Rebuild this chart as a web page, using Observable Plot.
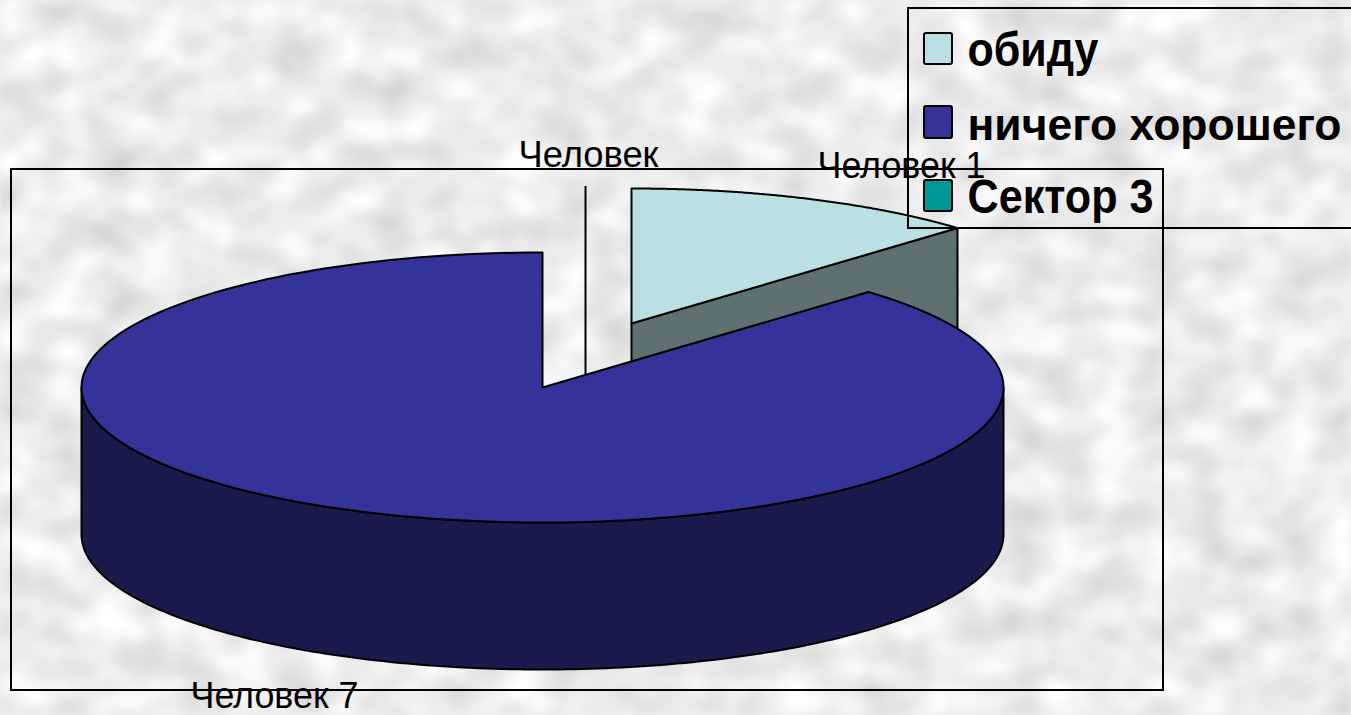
<!DOCTYPE html>
<html lang="ru">
<head>
<meta charset="utf-8">
<script src="https://cdn.jsdelivr.net/npm/d3@7"></script>
<script src="https://cdn.jsdelivr.net/npm/@observablehq/plot@0.6"></script>
<style>
html,body{margin:0;padding:0;width:1351px;height:715px;overflow:hidden;background:#ececec}
#bg{position:absolute;left:0;top:0}
#chart{position:absolute;left:0;top:0}
</style>
</head>
<body>
<svg id="bg" width="1351" height="715" aria-hidden="true">
  <filter id="mottle" x="0" y="0" width="100%" height="100%" color-interpolation-filters="sRGB">
    <feTurbulence type="fractalNoise" baseFrequency="0.022 0.028" numOctaves="2" seed="11"/>
    <feColorMatrix type="matrix" values="0.26 0 0 0 0.795  0.26 0 0 0 0.795  0.26 0 0 0 0.795  0 0 0 0 1"/>
    <feGaussianBlur stdDeviation="3.5"/>
  </filter>
  <rect width="1351" height="715" filter="url(#mottle)"/>
</svg>
<div id="chart"></div>
<script>
// Data
const categories = ["обиду", "ничего хорошего", "Сектор 3"];
const sliceValues = [1, 7, 0];
const sliceLabels = ["Человек 1", "Человек 7", "Человек"];
const topColors = ["#BBE0E3", "#333399", "#009999"];
const sideColors = ["#5E7072", "#1A1A4D", "#004D4D"];

// Layout of the pseudo-3D pie
const W = 1351, H = 715;
const C = {x: 542, y: 387, rx: 461, ry: 135, depth: 147};
const explode = [{dx: 89, dy: -64}, {dx: 0, dy: 0}];
const leaderX = 585, leaderTop = 186;
const frameBox = {x1: 11, y1: 169, x2: 1163, y2: 690};
const legendBox = {x1: 908, y1: 8, x2: 1360, y2: 228};
const swatchX = {x1: 924, x2: 952};
const swatchY = [[33, 64], [106, 138], [180, 211]];
const legendTextX = 967;
const legendTextY = [50, 125, 197];
const legendTextW = [131, 374, 186];
const legendFont = [48, 45, 48];
const labelPos = [{x: 901, y: 166}, {x: 274, y: 696}, {x: 588, y: 155}];
const labelW = [168, 168, 140];
const labelFont = 36;

// Slice angles, clockwise from 12 o'clock
const total = d3.sum(sliceValues);
let acc = 0;
const slices = sliceValues.map((v, i) => {
  const a0 = acc / total * 2 * Math.PI;
  acc += v;
  return {i, a0, a1: acc / total * 2 * Math.PI};
});
const pt = (a, s, down = 0) => ({
  x: C.x + s.dx + C.rx * Math.sin(a),
  y: C.y + s.dy - C.ry * Math.cos(a) + down
});
const arc = (a0, a1, s, down = 0) =>
  d3.range(0, 181).map(k => pt(a0 + (a1 - a0) * k / 180, s, down));

const [s1, s2] = slices;
const e1 = explode[0], e2 = explode[1];
const apex1 = {x: C.x + e1.dx, y: C.y + e1.dy};
const apex2 = {x: C.x + e2.dx, y: C.y + e2.dy};

const top1 = [apex1, ...arc(s1.a0, s1.a1, e1)];
const edge1 = pt(s1.a1, e1);
const cut1 = [apex1, edge1, {x: edge1.x, y: edge1.y + C.depth}, {x: apex1.x, y: apex1.y + C.depth}];
const top2 = [apex2, ...arc(s2.a0, s2.a1, e2)];
const frontA = Math.PI / 2, frontB = 3 * Math.PI / 2;
const side2 = [...arc(frontA, frontB, e2), ...arc(frontA, frontB, e2, C.depth).reverse()];

const shape = (points, fill) =>
  Plot.line(points, {x: "x", y: "y", fill, stroke: "#000", strokeWidth: 2, curve: "linear-closed", strokeLinejoin: "round"});

const box = (b) => Plot.rect([b], {x1: "x1", x2: "x2", y1: "y1", y2: "y2", fill: "none", stroke: "#000", strokeWidth: 2});

const legendRows = categories.map((name, i) => ({
  name, color: topColors[i],
  x1: swatchX.x1, x2: swatchX.x2, y1: swatchY[i][0], y2: swatchY[i][1],
  ty: legendTextY[i]
}));
const labelRows = sliceLabels.map((t, i) => ({t, ...labelPos[i]}));

const chart = Plot.plot({
  width: W, height: H,
  margin: 0,
  style: {background: "transparent"},
  x: {domain: [0, W], range: [0, W], axis: null},
  y: {domain: [0, H], range: [0, H], axis: null},
  marks: [
    Plot.ruleX([leaderX], {y1: leaderTop, y2: C.y, stroke: "#000", strokeWidth: 2}),
    shape(cut1, sideColors[0]),
    shape(top1, topColors[0]),
    shape(side2, sideColors[1]),
    shape(top2, topColors[1]),
    box(legendBox),
    Plot.rect(legendRows, {x1: "x1", x2: "x2", y1: "y1", y2: "y2", fill: "color", stroke: "#000", strokeWidth: 2, rx: 2}),
    ...legendRows.map((row, i) =>
      Plot.text([row], {x: legendTextX, y: "ty", text: "name", textAnchor: "start", fontSize: legendFont[i], fontWeight: "bold", fontFamily: "Liberation Sans", fill: "#000"})),
    Plot.text(labelRows, {x: "x", y: "y", text: "t", fontSize: labelFont, fontFamily: "Liberation Sans", fill: "#000"}),
    box(frameBox)
  ]
});
// Fit each text to the width it has in the picture (the original is stretched)
const fitted = new Map([
  ...categories.map((t, i) => [t, legendTextW[i]]),
  ...sliceLabels.map((t, i) => [t, labelW[i]])
]);
d3.select(chart).selectAll("text").each(function () {
  const w = fitted.get(this.textContent);
  if (w) { this.setAttribute("textLength", w); this.setAttribute("lengthAdjust", "spacingAndGlyphs"); }
});
document.getElementById("chart").append(chart);
</script>
</body>
</html>
